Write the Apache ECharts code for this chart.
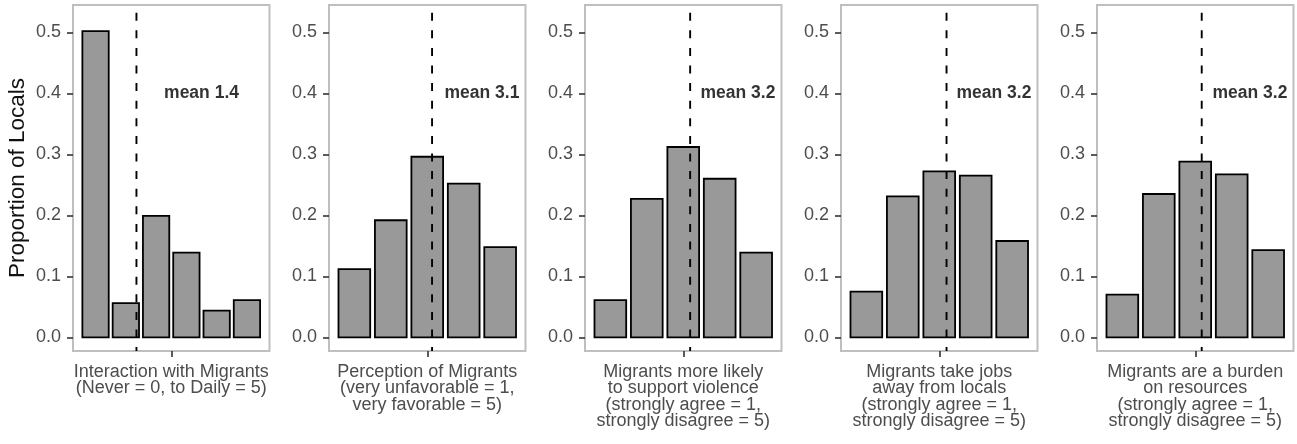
<!DOCTYPE html>
<html>
<head>
<meta charset="utf-8">
<title>Attitudes of locals towards migrants</title>
<script src="https://cdn.jsdelivr.net/npm/echarts@6/dist/echarts.min.js"></script>
<style>
  html, body { margin: 0; padding: 0; background: #ffffff; }
  #chart { width: 1297px; height: 444px; }
</style>
</head>
<body>
<div id="chart"></div>
<script>
// Survey items, one small panel each
const panelTitles = [
  "Interaction with Migrants\n(Never = 0, to Daily = 5)",
  "Perception of Migrants\n(very unfavorable = 1,\nvery favorable = 5)",
  "Migrants more likely\nto support violence\n(strongly agree = 1,\nstrongly disagree = 5)",
  "Migrants take jobs\naway from locals\n(strongly agree = 1,\nstrongly disagree = 5)",
  "Migrants are a burden\non resources\n(strongly agree = 1,\nstrongly disagree = 5)"
];

// Answer scales
const scaleInteraction = [0, 1, 2, 3, 4, 5];
const scaleAgreement = [1, 2, 3, 4, 5];

// Proportion of locals giving each answer
const interaction = [0.502, 0.056, 0.199, 0.139, 0.044, 0.061];
const perception = [0.112, 0.192, 0.296, 0.252, 0.148];
const violence = [0.061, 0.227, 0.312, 0.260, 0.139];
const jobs = [0.075, 0.231, 0.272, 0.265, 0.158];
const burden = [0.070, 0.235, 0.288, 0.267, 0.143];

// Y axis ticks
const yTicks = [0.0, 0.1, 0.2, 0.3, 0.4, 0.5];

const panels = [
  { scale: scaleInteraction, values: interaction },
  { scale: scaleAgreement, values: perception },
  { scale: scaleAgreement, values: violence },
  { scale: scaleAgreement, values: jobs },
  { scale: scaleAgreement, values: burden }
];

// Layout
const FONT = "'Liberation Sans', Arial, Helvetica, sans-serif";
const panelLeft = [73, 329, 585, 841, 1097];
const panelWidth = 196.5;
const panelTop = 5;
const panelHeight = 346;
const yMin = -0.0223, yMax = 0.5447;
const barWidth = 0.87;
const meanLabelX = [3.5, 4.5, 4.5, 4.5, 4.5];
const meanLabelY = 0.4;

function weightedMean(xs, ps) {
  let s = 0, w = 0;
  xs.forEach((x, i) => { s += x * ps[i]; w += ps[i]; });
  return s / w;
}

const grids = [], xAxes = [], yAxes = [], series = [];

panels.forEach((p, k) => {
  const lo = p.scale[0], hi = p.scale[p.scale.length - 1];
  const pad = 0.45 + 0.05 * (hi - lo + 0.9);
  const xMin = lo - pad, xMax = hi + pad;
  const mean = weightedMean(p.scale, p.values);

  grids.push({
    left: panelLeft[k], top: panelTop, width: panelWidth, height: panelHeight,
    show: true, borderColor: '#bfbfbf', borderWidth: 2, backgroundColor: '#ffffff'
  });

  xAxes.push({
    type: 'value', gridIndex: k, min: xMin, max: xMax,
    axisLine: { show: false, onZero: false },
    splitLine: { show: false },
    axisLabel: { show: false },
    axisTick: {
      show: true, length: 6, inside: false,
      customValues: [(lo + hi) / 2],
      lineStyle: { color: '#333333', width: 1.6 }
    },
    name: panelTitles[k],
    nameLocation: 'middle',
    nameGap: 13,
    nameTextStyle: {
      fontFamily: FONT, fontSize: 18, color: '#4d4d4d',
      lineHeight: 16.3, align: 'center', verticalAlign: 'top'
    }
  });

  yAxes.push({
    type: 'value', gridIndex: k, min: yMin, max: yMax,
    axisLine: { show: false, onZero: false },
    splitLine: { show: false },
    axisTick: {
      show: true, length: 6, customValues: yTicks,
      lineStyle: { color: '#333333', width: 1.6 }
    },
    axisLabel: {
      show: true, customValues: yTicks, margin: 12,
      fontFamily: FONT, fontSize: 18, color: '#4d4d4d',
      formatter: v => Number(v).toFixed(1)
    },
    name: k === 0 ? 'Proportion of Locals' : '',
    nameLocation: 'middle',
    nameGap: 44,
    nameTextStyle: { fontFamily: FONT, fontSize: 22.5, color: '#111111' }
  });

  // Bars
  series.push({
    type: 'custom', xAxisIndex: k, yAxisIndex: k,
    data: p.scale.map((x, i) => [x, p.values[i]]),
    encode: { x: 0, y: 1 },
    renderItem: (params, api) => {
      const x = api.value(0), y = api.value(1);
      const a = api.coord([x - barWidth / 2, y]);
      const b = api.coord([x + barWidth / 2, 0]);
      return {
        type: 'rect',
        shape: { x: a[0], y: a[1], width: b[0] - a[0], height: b[1] - a[1] },
        style: { fill: '#999999', stroke: '#000000', lineWidth: 1.8 }
      };
    },
    z: 2
  });

  // Dashed mean line across the full panel height
  series.push({
    type: 'line', xAxisIndex: k, yAxisIndex: k,
    data: [[mean, yMax], [mean, yMin]],
    symbol: 'none', clip: false,
    lineStyle: { color: '#000000', width: 1.9, type: [8, 9.6], dashOffset: 9.9, cap: 'butt' },
    z: 3
  });

  // Mean annotation
  series.push({
    type: 'scatter', xAxisIndex: k, yAxisIndex: k,
    data: [[meanLabelX[k], meanLabelY]],
    symbolSize: 0.1,
    itemStyle: { color: 'rgba(0,0,0,0)' },
    label: {
      show: true, position: 'inside',
      formatter: 'mean ' + mean.toFixed(1),
      fontFamily: FONT, fontSize: 17.5, fontWeight: 'bold', color: '#000000',
      align: 'center', verticalAlign: 'middle'
    },
    z: 4
  });
});

const chart = echarts.init(document.getElementById('chart'), null, { renderer: 'canvas' });
chart.setOption({
  backgroundColor: '#ffffff',
  animation: false,
  grid: grids,
  xAxis: xAxes,
  yAxis: yAxes,
  series: series
});
</script>
</body>
</html>
